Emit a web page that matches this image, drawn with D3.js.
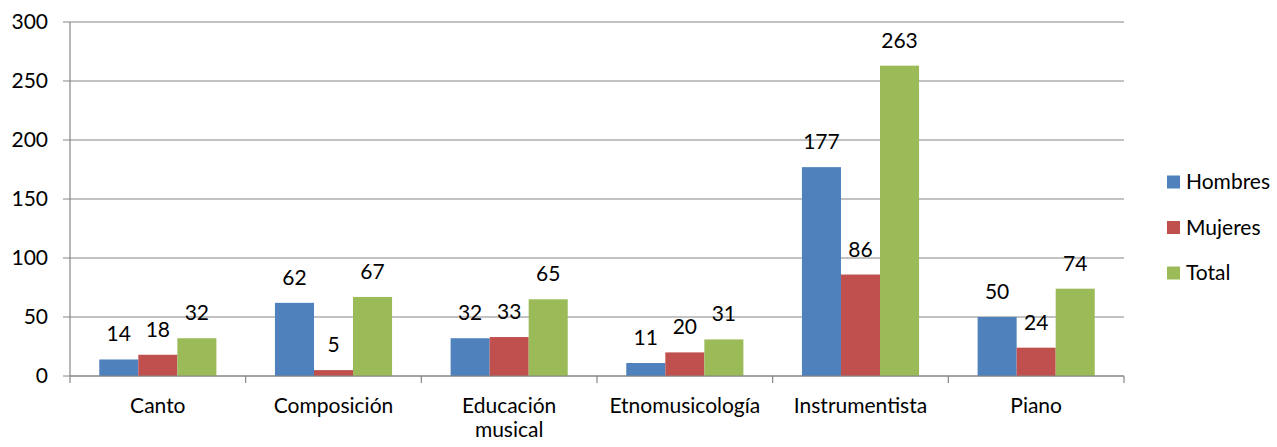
<!DOCTYPE html>
<html><head><meta charset="utf-8">
<script src="https://cdn.jsdelivr.net/npm/d3@7"></script>
<style>body{margin:0;background:#fff}svg{display:block}text{font-family:Lato,"Open Sans",sans-serif;fill:#000}</style>
</head><body>
<svg id="c" width="1277" height="447"></svg>
<script>
const categories = ["Canto","Composición","Educación musical","Etnomusicología","Instrumentista","Piano"];
const seriesNames = ["Hombres","Mujeres","Total"];
const hombres = [14,62,32,11,177,50];
const mujeres = [18,5,33,20,86,24];
const total = [32,67,65,31,263,74];
const yTicks = [0,50,100,150,200,250,300];
const colors = ["#4F81BD","#C0504D","#9BBB59"];

(function(){
const values = [hombres, mujeres, total];
const svg = d3.select("#c");
const FS = 21;
const pLeft = 70, pRight = 1124, pTop = 22, pBottom = 376;
const x = d3.scaleBand().domain(categories).range([pLeft, pRight]).paddingInner(0).paddingOuter(0);
const y = d3.scaleLinear().domain([0,300]).range([pBottom, pTop]);
const bw = x.bandwidth();
const inner = d3.scaleBand().domain(seriesNames).range([bw/6, bw*5/6]);

svg.append("g").selectAll("line").data(yTicks).join("line")
  .attr("x1", pLeft-7).attr("x2", pRight).attr("y1", d=>y(d)).attr("y2", d=>y(d))
  .attr("stroke", "#868686").attr("stroke-width", 1.2);
svg.append("g").selectAll("text").data(yTicks).join("text")
  .attr("x", 48).attr("y", d=>y(d)).attr("dy","0.35em").attr("text-anchor","end")
  .attr("font-size", FS).text(d=>d);

categories.forEach((c, ci) => {
  seriesNames.forEach((s, si) => {
    const v = values[si][ci];
    const bx = x(c) + inner(s);
    svg.append("rect").attr("x", bx).attr("y", y(v)).attr("width", inner.bandwidth())
      .attr("height", y(0)-y(v)).attr("fill", colors[si]);
    svg.append("text").attr("x", bx + inner.bandwidth()/2).attr("y", y(v)-18)
      .attr("text-anchor","middle").attr("font-size", FS).text(v);
  });
});

svg.append("line").attr("x1", pLeft).attr("x2", pLeft).attr("y1", pTop).attr("y2", pBottom)
  .attr("stroke","#868686").attr("stroke-width",1.2);
svg.append("line").attr("x1", pLeft).attr("x2", pRight).attr("y1", pBottom).attr("y2", pBottom)
  .attr("stroke","#868686").attr("stroke-width",1.2);
const edges = categories.map(c=>x(c)).concat([pRight]);
svg.append("g").selectAll("line").data(edges).join("line")
  .attr("x1", d=>d).attr("x2", d=>d).attr("y1", pBottom).attr("y2", pBottom+7)
  .attr("stroke","#868686").attr("stroke-width",1.2);

categories.forEach(c => {
  const cx = x(c) + bw/2;
  const t = svg.append("text").attr("x", cx).attr("y", 413).attr("text-anchor","middle").attr("font-size", FS);
  if (c === "Educación musical") {
    t.append("tspan").attr("x", cx).attr("y", 413).text("Educación");
    t.append("tspan").attr("x", cx).attr("y", 437).text("musical");
  } else t.text(c);
});

seriesNames.forEach((s, i) => {
  const ly = 182 + i*45.5;
  svg.append("rect").attr("x", 1167).attr("y", ly-6.5).attr("width", 13).attr("height", 13).attr("fill", colors[i]);
  svg.append("text").attr("x", 1186).attr("y", ly).attr("dy","0.35em").attr("font-size", FS).text(s);
});
})();
</script>
</body></html>
